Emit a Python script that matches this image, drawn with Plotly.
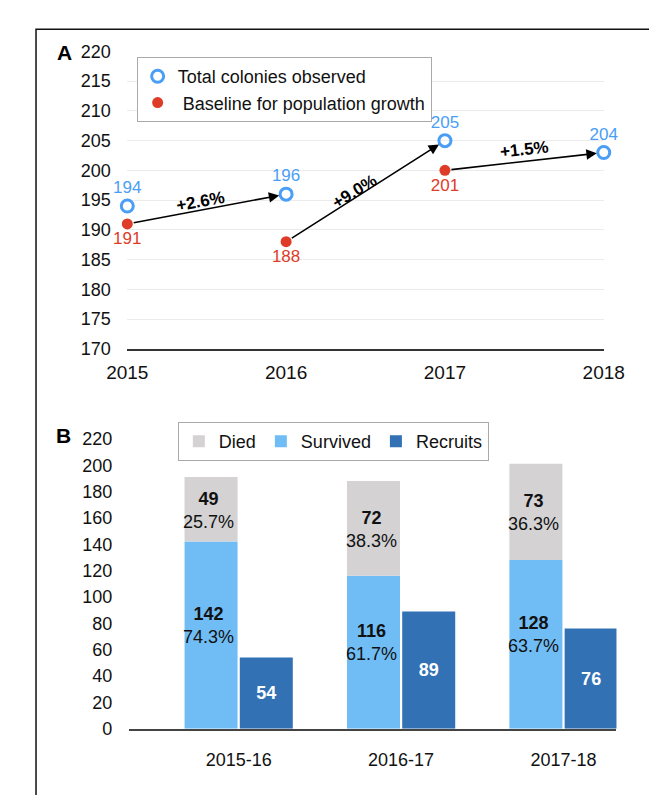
import math
import plotly.graph_objects as go

# ---------------- Data ----------------
# Panel A
years = [2015, 2016, 2017, 2018]
observed = [194, 196, 205, 203]            # plotted positions
observed_labels = ["194", "196", "205", "204"]
baseline_years = [2015, 2016, 2017]
baseline = [191, 188, 200]                 # plotted positions
baseline_labels = ["191", "188", "201"]
growth_labels = ["+2.6%", "+9.0%", "+1.5%"]

# Panel B
periods = ["2015-16", "2016-17", "2017-18"]
died = [49, 72, 73]
survived = [142, 116, 128]
recruits = [54, 89, 76]

# ---------------- Style ----------------
W, H = 657, 795
FONT = "Liberation Sans, Arial, Helvetica, sans-serif"
BLUE = "#4a9ef5"
RED = "#de3b28"
C_DIED = "#d4d2d3"
C_SURV = "#70bdf6"
C_REC = "#3171b4"

def px_x(p):
    return p / W

def px_y(p):
    return 1 - p / H

# Panel A geometry (pixels)
A_left, A_right, A_top, A_bottom = 105, 614, 34.3, 339.3
# Panel B geometry (pixels)
B_left, B_right, B_top, B_bottom = 106.7, 627.6, 431.7, 729

fig = go.Figure()

# Panel A traces
fig.add_trace(go.Scatter(
    x=years, y=observed, mode="markers+text",
    text=observed_labels, textposition="top center",
    textfont=dict(size=17, color=BLUE, family=FONT),
    marker=dict(symbol="circle-open", size=12, color=BLUE, line=dict(width=3, color=BLUE)),
    name="Total colonies observed", legend="legend",
    xaxis="x", yaxis="y", cliponaxis=False,
))
fig.add_trace(go.Scatter(
    x=baseline_years, y=baseline, mode="markers+text",
    text=baseline_labels, textposition="bottom center",
    textfont=dict(size=17, color=RED, family=FONT),
    marker=dict(symbol="circle", size=11, color=RED),
    name=" Baseline for population growth", legend="legend",
    xaxis="x", yaxis="y", cliponaxis=False,
))

# Panel B traces
surv_pct = [f"{100*s/(s+d):.1f}%" for s, d in zip(survived, died)]
died_pct = [f"{100*d/(s+d):.1f}%" for s, d in zip(survived, died)]

fig.add_trace(go.Bar(
    x=periods, y=survived, name="Survived", offsetgroup="a",
    marker=dict(color=C_SURV, line=dict(width=0)),
    xaxis="x2", yaxis="y2", legend="legend2", legendrank=2,
))
fig.add_trace(go.Bar(
    x=periods, y=died, base=survived, name="Died", offsetgroup="a",
    marker=dict(color=C_DIED, line=dict(width=0)),
    xaxis="x2", yaxis="y2", legend="legend2", legendrank=1,
))
fig.add_trace(go.Bar(
    x=periods, y=recruits, name="Recruits", offsetgroup="b",
    marker=dict(color=C_REC, line=dict(width=0)),
    text=[f"<b>{v}</b>" for v in recruits],
    textposition="inside", insidetextanchor="middle", constraintext="none",
    textangle=0,
    textfont=dict(size=18, color="white", family=FONT),
    xaxis="x2", yaxis="y2", legend="legend2", legendrank=3,
))

annotations = []

# Labels inside the stacked bars (placed from the data values)
for i, p in enumerate(periods):
    annotations.append(dict(
        x=p, y=survived[i] + died[i] / 2, xref="x2", yref="y2",
        text=f"<b>{died[i]}</b><br>{died_pct[i]}", showarrow=False,
        xshift=-30, yshift=-1, align="center",
        font=dict(size=18, color="#111", family=FONT),
    ))
    annotations.append(dict(
        x=p, y=survived[i] / 2, xref="x2", yref="y2",
        text=f"<b>{survived[i]}</b><br>{surv_pct[i]}", showarrow=False,
        xshift=-30, yshift=10, align="center",
        font=dict(size=18, color="#111", family=FONT),
    ))

# Arrows and growth labels (Panel A)
px_per_year = (A_right - A_left) / (years[-1] - years[0])
px_per_unit = (A_bottom - A_top) / 50.0
text_shift = [(-6, 8), (-11, 0), (0, 12)]
for i in range(3):
    x0, y0 = baseline_years[i], baseline[i]
    x1, y1 = years[i + 1], observed[i + 1]
    annotations.append(dict(
        x=x1, y=y1, ax=x0, ay=y0, xref="x", yref="y", axref="x", ayref="y",
        text="", showarrow=True, arrowhead=2, arrowsize=1.3, arrowwidth=1.6,
        arrowcolor="#000", standoff=7, startstandoff=5,
    ))
    ang = -math.degrees(math.atan2((y1 - y0) * px_per_unit, (x1 - x0) * px_per_year))
    annotations.append(dict(
        x=(x0 + x1) / 2, y=(y0 + y1) / 2, xref="x", yref="y",
        text=f"<b>{growth_labels[i]}</b>", showarrow=False, textangle=ang,
        xshift=text_shift[i][0], yshift=text_shift[i][1],
        font=dict(size=17, color="#000", family=FONT),
    ))

# Panel letters
annotations.append(dict(x=px_x(38), y=px_y(35), xref="paper", yref="paper",
                        xanchor="center", yanchor="middle",
                        text="<b>A</b>", showarrow=False,
                        font=dict(size=21, color="#000", family=FONT)))
annotations.append(dict(x=px_x(37), y=px_y(428), xref="paper", yref="paper",
                        xanchor="center", yanchor="middle",
                        text="<b>B</b>", showarrow=False,
                        font=dict(size=21, color="#000", family=FONT)))

tickfont = dict(size=18, color="#111", family=FONT)

fig.update_layout(
    width=W, height=H,
    margin=dict(l=0, r=0, t=0, b=0),
    paper_bgcolor="white", plot_bgcolor="white",
    font=dict(family=FONT, color="#111"),
    barmode="group", bargap=0.32, bargroupgap=0.04,
    annotations=annotations,
    xaxis=dict(
        domain=[px_x(A_left), px_x(A_right)], range=[2015, 2018],
        tickvals=years, ticktext=[str(y) for y in years],
        showgrid=False, zeroline=False, showline=True, linecolor="#333", linewidth=1.5,
        ticks="outside", ticklen=6, tickcolor="rgba(0,0,0,0)",
        tickfont=dict(size=19, color="#111", family=FONT),
        anchor="y", fixedrange=True,
    ),
    yaxis=dict(
        domain=[px_y(A_bottom), px_y(A_top)], range=[170, 220], dtick=5,
        showgrid=True, gridcolor="#ececec", gridwidth=1, zeroline=False, showline=False,
        ticks="outside", ticklen=12, tickcolor="rgba(0,0,0,0)", tickfont=tickfont,
        anchor="x",
    ),
    xaxis2=dict(
        domain=[px_x(B_left), px_x(B_right)], type="category", range=[-0.676, 2.326],
        showgrid=False, zeroline=False, showline=True, linecolor="#444", linewidth=2,
        ticks="outside", ticklen=14, tickcolor="rgba(0,0,0,0)", tickfont=tickfont,
        anchor="y2",
    ),
    yaxis2=dict(
        domain=[px_y(B_bottom), px_y(B_top)], range=[0, 220], dtick=20,
        showgrid=False, zeroline=False, showline=False,
        ticks="outside", ticklen=12, tickcolor="rgba(0,0,0,0)", tickfont=tickfont,
        anchor="x2",
    ),
    legend=dict(
        x=px_x(115), y=px_y(40), xanchor="left", yanchor="top",
        bgcolor="white", bordercolor="#aaa", borderwidth=1,
        font=dict(size=18, color="#111", family=FONT),
        itemwidth=30, tracegroupgap=0,
    ),
    legend2=dict(
        x=px_x(159), y=px_y(414.5), xanchor="left", yanchor="top",
        orientation="h", traceorder="normal",
        bgcolor="white", bordercolor="#aaa", borderwidth=1,
        font=dict(size=18, color="#111", family=FONT),
        itemwidth=30,
    ),
    shapes=[dict(type="rect", xref="paper", yref="paper",
                 x0=px_x(7.5), x1=1.05, y0=-0.05, y1=px_y(11.5),
                 line=dict(color="#111", width=1.5), fillcolor="rgba(0,0,0,0)", layer="below")],
)

fig.write_html("out.html")
